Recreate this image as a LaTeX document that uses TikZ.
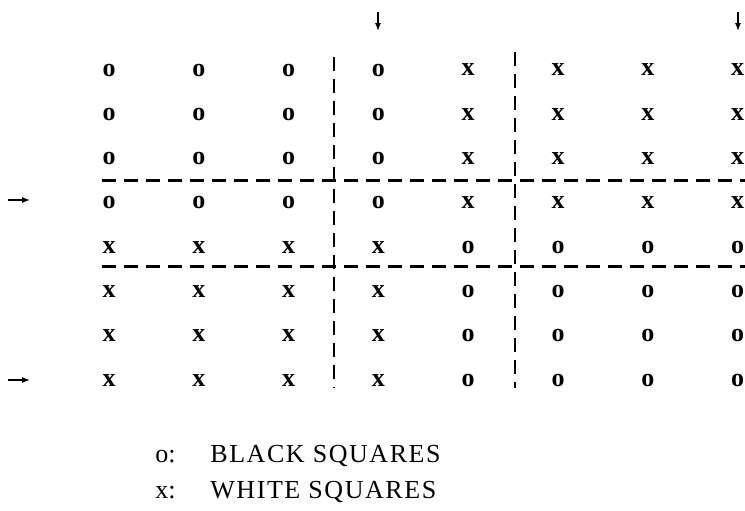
\documentclass[tikz,border=0pt]{standalone}
\usepackage{fontspec}
\setmainfont{Liberation Serif}
\usetikzlibrary{arrows.meta}
\begin{document}
\begin{tikzpicture}[
  x=0.5pt, y=-0.5pt,
  cell/.style={font=\fontsize{13}{14}\selectfont\bfseries, inner sep=1pt},
  key/.style={anchor=base west, font=\fontsize{13}{15}\selectfont, inner sep=0pt},
  cut/.style={dash pattern=on 7pt off 4pt, line width=1.5pt},
  pointer/.style={-{Latex[length=4pt,width=3pt]}, line width=0.6pt}
]
\useasboundingbox (0,0) rectangle (745,510);
% board: o on the left / x on the right in the upper half, swapped below
\foreach \r/\lft/\rgt in {1/o/x,2/o/x,3/o/x,4/o/x,5/x/o,6/x/o,7/x/o,8/x/o}{
  \foreach \c in {1,...,4}
    \node[cell] (r\r c\c) at ({109+89.8*(\c-1)},{70+44.3*(\r-1)}) {\lft};
  \foreach \c in {5,...,8}
    \node[cell] (r\r c\c) at ({109+89.8*(\c-1)},{70+44.3*(\r-1)}) {\rgt};
}

% cut lines
\coordinate (topcutw) at (102,180);
\coordinate (topcute) at (745,180);
\coordinate (lowcutw) at (102,266);
\coordinate (lowcute) at (745,266);
\coordinate (leftcutn) at (334,57);
\coordinate (leftcuts) at (334,388);
\coordinate (rightcutn) at (515,52);
\coordinate (rightcuts) at (515,388);
\draw[cut] (topcutw) -- (topcute);
\draw[cut] (lowcutw) -- (lowcute);
\draw[cut, line width=1pt] (leftcutn) -- (leftcuts);
\draw[cut, line width=1pt] (rightcutn) -- (rightcuts);

% pointers to rows and columns
\coordinate (colfour) at (378,12);
\coordinate (coleight) at (738,12);
\coordinate (rowfour) at (8,200);
\coordinate (roweight) at (8,380);
\draw[pointer] (colfour) -- ++(0,19);
\draw[pointer] (coleight) -- ++(0,19);
\draw[pointer] (rowfour) -- ++(22,0);
\draw[pointer] (roweight) -- ++(22,0);

% legend
\node[key] (keyo) at (155,462) {o:};
\node[key] (keyblack) at (210,462) {\addfontfeature{LetterSpace=6}BLACK SQUARES};
\node[key] (keyx) at (155,498) {x:};
\node[key] (keywhite) at (210,498) {\addfontfeature{LetterSpace=6}WHITE SQUARES};
\end{tikzpicture}
\end{document}
